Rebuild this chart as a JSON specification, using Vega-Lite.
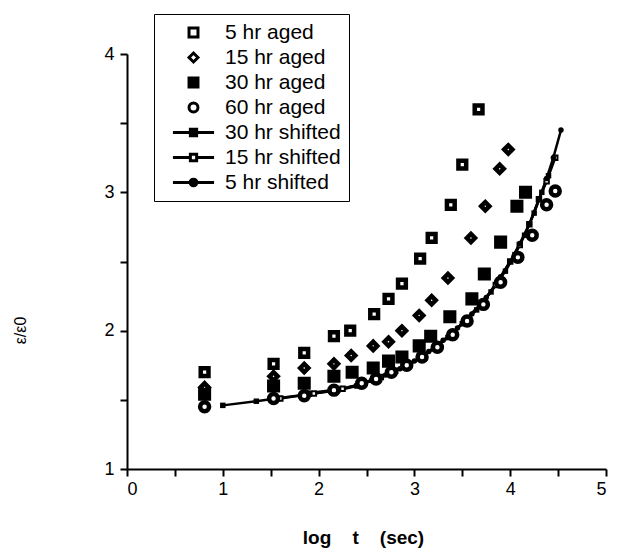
{
  "$schema": "https://vega.github.io/schema/vega-lite/v6.json",
  "width": 479,
  "height": 415,
  "autosize": {"type": "none"},
  "padding": {"left": 127, "top": 54, "right": 18, "bottom": 81},
  "background": "white",
  "config": {
    "view": {"stroke": null},
    "font": "Liberation Sans",
    "axis": {
      "grid": false,
      "domainColor": "black",
      "domainWidth": 2,
      "tickColor": "black",
      "tickWidth": 2,
      "tickSize": 7,
      "labelColor": "black",
      "labelFont": "Liberation Sans",
      "labelFontSize": 18,
      "titleColor": "black",
      "titleFont": "Liberation Sans"
    }
  },
  "data": {
    "values": [
      {"series": "5 hr aged", "x": 0.81, "y": 1.70},
      {"series": "5 hr aged", "x": 1.53, "y": 1.76},
      {"series": "5 hr aged", "x": 1.85, "y": 1.84},
      {"series": "5 hr aged", "x": 2.16, "y": 1.96},
      {"series": "5 hr aged", "x": 2.33, "y": 2.00},
      {"series": "5 hr aged", "x": 2.58, "y": 2.12},
      {"series": "5 hr aged", "x": 2.73, "y": 2.23},
      {"series": "5 hr aged", "x": 2.87, "y": 2.34},
      {"series": "5 hr aged", "x": 3.06, "y": 2.52},
      {"series": "5 hr aged", "x": 3.18, "y": 2.67},
      {"series": "5 hr aged", "x": 3.38, "y": 2.91},
      {"series": "5 hr aged", "x": 3.50, "y": 3.20},
      {"series": "5 hr aged", "x": 3.67, "y": 3.60},
      {"series": "15 hr aged", "x": 0.81, "y": 1.59},
      {"series": "15 hr aged", "x": 1.53, "y": 1.67},
      {"series": "15 hr aged", "x": 1.85, "y": 1.73},
      {"series": "15 hr aged", "x": 2.16, "y": 1.76},
      {"series": "15 hr aged", "x": 2.34, "y": 1.82},
      {"series": "15 hr aged", "x": 2.57, "y": 1.89},
      {"series": "15 hr aged", "x": 2.73, "y": 1.92},
      {"series": "15 hr aged", "x": 2.87, "y": 2.00},
      {"series": "15 hr aged", "x": 3.05, "y": 2.11},
      {"series": "15 hr aged", "x": 3.18, "y": 2.22},
      {"series": "15 hr aged", "x": 3.35, "y": 2.38},
      {"series": "15 hr aged", "x": 3.59, "y": 2.67},
      {"series": "15 hr aged", "x": 3.74, "y": 2.90},
      {"series": "15 hr aged", "x": 3.89, "y": 3.17},
      {"series": "15 hr aged", "x": 3.98, "y": 3.31},
      {"series": "30 hr aged", "x": 0.81, "y": 1.54},
      {"series": "30 hr aged", "x": 1.53, "y": 1.60},
      {"series": "30 hr aged", "x": 1.85, "y": 1.62},
      {"series": "30 hr aged", "x": 2.16, "y": 1.67},
      {"series": "30 hr aged", "x": 2.35, "y": 1.70},
      {"series": "30 hr aged", "x": 2.57, "y": 1.73},
      {"series": "30 hr aged", "x": 2.73, "y": 1.78},
      {"series": "30 hr aged", "x": 2.87, "y": 1.81},
      {"series": "30 hr aged", "x": 3.05, "y": 1.89},
      {"series": "30 hr aged", "x": 3.17, "y": 1.96},
      {"series": "30 hr aged", "x": 3.37, "y": 2.10},
      {"series": "30 hr aged", "x": 3.60, "y": 2.23},
      {"series": "30 hr aged", "x": 3.73, "y": 2.41},
      {"series": "30 hr aged", "x": 3.90, "y": 2.64},
      {"series": "30 hr aged", "x": 4.07, "y": 2.90},
      {"series": "30 hr aged", "x": 4.16, "y": 3.00},
      {"series": "60 hr aged", "x": 0.81, "y": 1.45},
      {"series": "60 hr aged", "x": 1.53, "y": 1.51},
      {"series": "60 hr aged", "x": 1.85, "y": 1.53},
      {"series": "60 hr aged", "x": 2.16, "y": 1.57},
      {"series": "60 hr aged", "x": 2.45, "y": 1.62},
      {"series": "60 hr aged", "x": 2.60, "y": 1.65},
      {"series": "60 hr aged", "x": 2.76, "y": 1.70},
      {"series": "60 hr aged", "x": 2.92, "y": 1.75},
      {"series": "60 hr aged", "x": 3.08, "y": 1.81},
      {"series": "60 hr aged", "x": 3.24, "y": 1.88},
      {"series": "60 hr aged", "x": 3.40, "y": 1.97},
      {"series": "60 hr aged", "x": 3.55, "y": 2.07},
      {"series": "60 hr aged", "x": 3.72, "y": 2.19},
      {"series": "60 hr aged", "x": 3.90, "y": 2.35},
      {"series": "60 hr aged", "x": 4.08, "y": 2.53},
      {"series": "60 hr aged", "x": 4.23, "y": 2.69},
      {"series": "60 hr aged", "x": 4.38, "y": 2.91},
      {"series": "60 hr aged", "x": 4.47, "y": 3.01},
      {"series": "30 hr shifted", "x": 1.00, "y": 1.46},
      {"series": "30 hr shifted", "x": 1.35, "y": 1.49},
      {"series": "30 hr shifted", "x": 1.55, "y": 1.51},
      {"series": "30 hr shifted", "x": 1.90, "y": 1.54},
      {"series": "30 hr shifted", "x": 2.20, "y": 1.57},
      {"series": "30 hr shifted", "x": 2.40, "y": 1.60},
      {"series": "30 hr shifted", "x": 2.60, "y": 1.65},
      {"series": "30 hr shifted", "x": 2.75, "y": 1.69},
      {"series": "30 hr shifted", "x": 2.90, "y": 1.74},
      {"series": "30 hr shifted", "x": 3.05, "y": 1.80},
      {"series": "30 hr shifted", "x": 3.20, "y": 1.87},
      {"series": "30 hr shifted", "x": 3.35, "y": 1.95},
      {"series": "30 hr shifted", "x": 3.50, "y": 2.05},
      {"series": "30 hr shifted", "x": 3.65, "y": 2.15},
      {"series": "30 hr shifted", "x": 3.80, "y": 2.28},
      {"series": "30 hr shifted", "x": 3.95, "y": 2.43},
      {"series": "30 hr shifted", "x": 4.05, "y": 2.55},
      {"series": "30 hr shifted", "x": 4.15, "y": 2.69},
      {"series": "30 hr shifted", "x": 4.25, "y": 2.85},
      {"series": "30 hr shifted", "x": 4.33, "y": 3.00},
      {"series": "30 hr shifted", "x": 4.40, "y": 3.12},
      {"series": "15 hr shifted", "x": 1.60, "y": 1.51},
      {"series": "15 hr shifted", "x": 1.95, "y": 1.545},
      {"series": "15 hr shifted", "x": 2.25, "y": 1.58},
      {"series": "15 hr shifted", "x": 2.45, "y": 1.615},
      {"series": "15 hr shifted", "x": 2.65, "y": 1.665},
      {"series": "15 hr shifted", "x": 2.80, "y": 1.71},
      {"series": "15 hr shifted", "x": 2.95, "y": 1.76},
      {"series": "15 hr shifted", "x": 3.10, "y": 1.82},
      {"series": "15 hr shifted", "x": 3.25, "y": 1.90},
      {"series": "15 hr shifted", "x": 3.40, "y": 1.98},
      {"series": "15 hr shifted", "x": 3.55, "y": 2.09},
      {"series": "15 hr shifted", "x": 3.70, "y": 2.20},
      {"series": "15 hr shifted", "x": 3.85, "y": 2.33},
      {"series": "15 hr shifted", "x": 4.00, "y": 2.50},
      {"series": "15 hr shifted", "x": 4.10, "y": 2.62},
      {"series": "15 hr shifted", "x": 4.20, "y": 2.77},
      {"series": "15 hr shifted", "x": 4.30, "y": 2.95},
      {"series": "15 hr shifted", "x": 4.38, "y": 3.08},
      {"series": "15 hr shifted", "x": 4.47, "y": 3.25},
      {"series": "5 hr shifted", "x": 1.90, "y": 1.55},
      {"series": "5 hr shifted", "x": 2.20, "y": 1.575},
      {"series": "5 hr shifted", "x": 2.40, "y": 1.605},
      {"series": "5 hr shifted", "x": 2.55, "y": 1.64},
      {"series": "5 hr shifted", "x": 2.70, "y": 1.68},
      {"series": "5 hr shifted", "x": 2.85, "y": 1.725},
      {"series": "5 hr shifted", "x": 3.00, "y": 1.78},
      {"series": "5 hr shifted", "x": 3.15, "y": 1.85},
      {"series": "5 hr shifted", "x": 3.30, "y": 1.93},
      {"series": "5 hr shifted", "x": 3.45, "y": 2.02},
      {"series": "5 hr shifted", "x": 3.60, "y": 2.12},
      {"series": "5 hr shifted", "x": 3.75, "y": 2.24},
      {"series": "5 hr shifted", "x": 3.90, "y": 2.39},
      {"series": "5 hr shifted", "x": 4.00, "y": 2.50},
      {"series": "5 hr shifted", "x": 4.10, "y": 2.63},
      {"series": "5 hr shifted", "x": 4.20, "y": 2.77},
      {"series": "5 hr shifted", "x": 4.30, "y": 2.95},
      {"series": "5 hr shifted", "x": 4.38, "y": 3.10},
      {"series": "5 hr shifted", "x": 4.45, "y": 3.25},
      {"series": "5 hr shifted", "x": 4.53, "y": 3.45}
    ]
  },
  "encoding": {
    "x": {
      "field": "x",
      "type": "quantitative",
      "scale": {"domain": [0, 5], "nice": false, "zero": false},
      "axis": {
        "values": [0, 0.5, 1, 1.5, 2, 2.5, 3, 3.5, 4, 4.5, 5],
        "labelExpr": "datum.value % 1 === 0 ? '' + datum.value : ''",
        "labelPadding": 4,
        "title": "log\u00a0\u00a0\u00a0\u00a0t\u00a0\u00a0\u00a0\u00a0(sec)",
        "titleFontSize": 19,
        "titleFontWeight": "bold",
        "titleX": 236,
        "titleY": 68,
        "titleAlign": "center",
        "titleBaseline": "middle"
      }
    },
    "y": {
      "field": "y",
      "type": "quantitative",
      "scale": {"domain": [1, 4], "nice": false, "zero": false},
      "axis": {
        "values": [1, 1.5, 2, 2.5, 3, 3.5, 4],
        "labelExpr": "datum.value % 1 === 0 ? '' + datum.value : ''",
        "labelPadding": 6,
        "title": "ε/ε0",
        "titleFontSize": 16,
        "titleFontWeight": "normal",
        "titleAngle": -90,
        "titleX": -107,
        "titleY": 276,
        "titleAlign": "center",
        "titleBaseline": "middle"
      }
    }
  },
  "layer": [
    {
      "transform": [{"filter": "indexof(datum.series, 'shifted') >= 0"}],
      "mark": {"type": "line", "color": "black", "strokeWidth": 2.5},
      "encoding": {"detail": {"field": "series"}, "order": {"field": "x"}}
    },
    {
      "transform": [{"filter": "datum.series === '30 hr shifted'"}],
      "mark": {"type": "point", "shape": "square", "filled": true, "color": "black", "size": 30, "opacity": 1}
    },
    {
      "transform": [{"filter": "datum.series === '15 hr shifted'"}],
      "mark": {"type": "point", "shape": "square", "fill": "white", "stroke": "black", "strokeWidth": 2, "size": 20, "opacity": 1}
    },
    {
      "transform": [{"filter": "datum.series === '5 hr shifted'"}],
      "mark": {"type": "point", "shape": "circle", "filled": true, "color": "black", "size": 30, "opacity": 1}
    },
    {
      "transform": [{"filter": "indexof(datum.series, 'aged') >= 0"}],
      "mark": {"type": "point", "opacity": 1},
      "encoding": {
        "shape": {
          "field": "series",
          "type": "nominal",
          "scale": {
            "domain": ["5 hr aged", "15 hr aged", "30 hr aged", "60 hr aged", "30 hr shifted", "15 hr shifted", "5 hr shifted"],
            "range": [
              "square",
              "diamond",
              "square",
              "circle",
              "M-4.6,0H4.6M-0.7,-0.7H0.7V0.7H-0.7Z",
              "M-4.6,0H-0.7M0.7,0H4.6M-0.7,-0.7H0.7V0.7H-0.7Z",
              "M-4.6,0H-0.75M0.75,0H4.6M0.75,0A0.75,0.75,0,1,1,-0.75,0A0.75,0.75,0,1,1,0.75,0Z"
            ]
          },
          "legend": {
            "title": null,
            "orient": "none",
            "legendX": 27,
            "legendY": -40,
            "strokeColor": "black",
            "padding": 8,
            "rowPadding": 3,
            "symbolSize": 80,
            "symbolStrokeWidth": 3,
            "symbolOffset": 21,
            "labelOffset": 21,
            "labelFont": "Liberation Sans",
            "labelFontSize": 21,
            "labelColor": "black",
            "labelLimit": 300,
            "encode": {
              "legend": {"update": {"strokeWidth": {"value": 2}}}
            }
          }
        },
        "fill": {
          "field": "series",
          "type": "nominal",
          "scale": {
            "domain": ["5 hr aged", "15 hr aged", "30 hr aged", "60 hr aged", "30 hr shifted", "15 hr shifted", "5 hr shifted"],
            "range": ["white", "white", "black", "white", "black", "white", "black"]
          }
        },
        "stroke": {
          "field": "series",
          "type": "nominal",
          "scale": {
            "domain": ["5 hr aged", "15 hr aged", "30 hr aged", "60 hr aged", "30 hr shifted", "15 hr shifted", "5 hr shifted"],
            "range": ["black", "black", "black", "black", "black", "black", "black"]
          }
        },
        "size": {
          "field": "series",
          "type": "nominal",
          "scale": {
            "domain": ["5 hr aged", "15 hr aged", "30 hr aged", "60 hr aged"],
            "range": [60, 80, 120, 64]
          },
          "legend": null
        },
        "strokeWidth": {
          "field": "series",
          "type": "nominal",
          "scale": {
            "domain": ["5 hr aged", "15 hr aged", "30 hr aged", "60 hr aged"],
            "range": [4.5, 4.5, 1, 3]
          },
          "legend": null
        }
      }
    }
  ]
}
